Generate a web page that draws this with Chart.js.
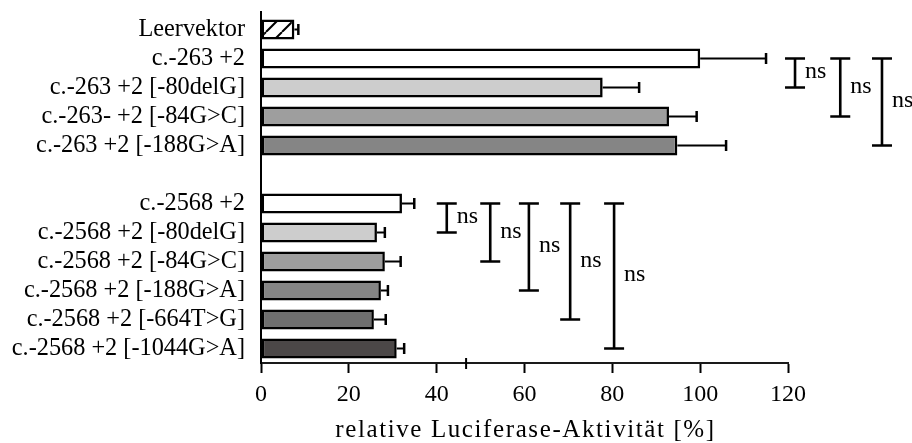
<!DOCTYPE html>
<html>
<head>
<meta charset="utf-8">
<script src="https://cdn.jsdelivr.net/npm/chart.js@4"></script>
<style>
  html, body { margin: 0; padding: 0; background: #fff; }
  #wrap { width: 912px; height: 443px; }
</style>
</head>
<body>
<div id="wrap"><canvas id="c" width="912" height="443"></canvas></div>
<script>
// Constructs (top to bottom); the empty entry separates the two promoter groups
const categories = [
  'Leervektor',
  'c.-263 +2',
  'c.-263 +2 [-80delG]',
  'c.-263- +2 [-84G>C]',
  'c.-263 +2 [-188G>A]',
  '',
  'c.-2568 +2',
  'c.-2568 +2 [-80delG]',
  'c.-2568 +2 [-84G>C]',
  'c.-2568 +2 [-188G>A]',
  'c.-2568 +2 [-664T>G]',
  'c.-2568 +2 [-1044G>A]'
];

// Mean relative luciferase activity [%]
const activity = [7.6, 100, 77.8, 92.9, 94.8, null, 32.1, 26.4, 28.2, 27.3, 25.7, 30.9];

// Standard deviation (drawn on the positive side only)
const deviation = [0.9, 15.0, 8.3, 6.3, 11.1, null, 2.8, 1.8, 3.6, 1.6, 2.7, 1.7];

// Axis tick values
const xTicks = [0, 20, 40, 60, 80, 100, 120];

// Pairwise comparisons against each group's reference construct
const comparisonRef = [1, 1, 1, 6, 6, 6, 6, 6];
const comparisonTo  = [2, 3, 4, 7, 8, 9, 10, 11];
const comparisonTxt = ['ns', 'ns', 'ns', 'ns', 'ns', 'ns', 'ns', 'ns'];

// ---- styling ----
const serif = '"Liberation Serif", "Times New Roman", serif';
const bracketAt = [121.6, 131.9, 141.4, 42.3, 52.2, 61.0, 70.4, 80.4];
const breakMark = 46.7;

function hatch() {
  const t = document.createElement('canvas');
  t.width = 16; t.height = 16;
  const g = t.getContext('2d');
  g.fillStyle = '#fff';
  g.fillRect(0, 0, 16, 16);
  g.strokeStyle = '#000';
  g.lineWidth = 2;
  g.beginPath();
  g.moveTo(10, 0); g.lineTo(-6, 16);
  g.moveTo(26, 0); g.lineTo(10, 16);
  g.stroke();
  return document.getElementById('c').getContext('2d').createPattern(t, 'repeat');
}

const fills = [hatch(), '#ffffff', '#cdcdcd', '#9e9e9e', '#858585', '#ffffff',
               '#ffffff', '#cdcdcd', '#9e9e9e', '#858585', '#6f6f6f', '#4b4747'];

const extras = {
  id: 'extras',
  afterDatasetsDraw(chart) {
    const { ctx, scales: { x, y }, chartArea } = chart;
    ctx.save();
    ctx.strokeStyle = '#000';
    ctx.fillStyle = '#000';

    // error bars
    activity.forEach((v, i) => {
      if (v == null) return;
      const py = y.getPixelForValue(i);
      const x0 = x.getPixelForValue(v);
      const x1 = x.getPixelForValue(v + deviation[i]);
      ctx.lineWidth = 2;
      ctx.beginPath();
      ctx.moveTo(x0, py); ctx.lineTo(x1, py);
      ctx.stroke();
      ctx.lineWidth = 2.5;
      ctx.beginPath();
      ctx.moveTo(x1, py - 5.5); ctx.lineTo(x1, py + 5.5);
      ctx.stroke();
    });

    // significance brackets
    ctx.font = '24px ' + serif;
    ctx.textAlign = 'left';
    ctx.textBaseline = 'middle';
    comparisonRef.forEach((a, k) => {
      const bx = x.getPixelForValue(bracketAt[k]);
      const y1 = y.getPixelForValue(a);
      const y2 = y.getPixelForValue(comparisonTo[k]);
      ctx.lineWidth = 2.6;
      ctx.beginPath();
      ctx.moveTo(bx, y1); ctx.lineTo(bx, y2);
      ctx.moveTo(bx - 10, y1); ctx.lineTo(bx + 10, y1);
      ctx.moveTo(bx - 10, y2); ctx.lineTo(bx + 10, y2);
      ctx.stroke();
      ctx.fillText(comparisonTxt[k], bx + 10, (y1 + y2) / 2 - 1);
    });

    // y axis line runs slightly above the plot area
    ctx.lineWidth = 2;
    ctx.beginPath();
    ctx.moveTo(chartArea.left, 11); ctx.lineTo(chartArea.left, chartArea.top);
    ctx.stroke();

    // small mark crossing the x axis
    const mx = x.getPixelForValue(breakMark);
    ctx.beginPath();
    ctx.moveTo(mx, chartArea.bottom - 5); ctx.lineTo(mx, chartArea.bottom + 6);
    ctx.stroke();

    // x axis title
    ctx.font = '25px ' + serif;
    ctx.textAlign = 'center';
    ctx.textBaseline = 'alphabetic';
    ctx.letterSpacing = '1.6px';
    ctx.fillText('relative Luciferase-Aktivität [%]', (chartArea.left + chartArea.right) / 2 + 1, 437);
    ctx.restore();
  }
};

new Chart(document.getElementById('c'), {
  type: 'bar',
  data: {
    labels: categories,
    datasets: [{
      data: activity,
      backgroundColor: fills,
      borderColor: '#000',
      borderWidth: 2.6,
      borderSkipped: false,
      barPercentage: 0.69,
      categoryPercentage: 1
    }]
  },
  options: {
    indexAxis: 'y',
    responsive: false,
    animation: false,
    devicePixelRatio: 1,
    layout: { padding: { top: 15, right: 124, bottom: 0, left: 0 } },
    plugins: { legend: { display: false }, tooltip: { enabled: false } },
    scales: {
      x: {
        type: 'linear',
        min: 0,
        max: 120,
        afterBuildTicks: s => { s.ticks = xTicks.map(v => ({ value: v })); },
        afterFit: s => { s.height = 80; s.paddingLeft = 0; s.paddingRight = 0; },
        ticks: { color: '#000', font: { family: serif, size: 24 }, padding: 7, maxRotation: 0, autoSkip: false },
        grid: { drawOnChartArea: false, drawTicks: true, tickLength: 10, tickWidth: 2, tickColor: '#000' },
        border: { display: true, color: '#1a1a1a', width: 2 }
      },
      y: {
        type: 'category',
        offset: true,
        afterFit: s => { s.width = 261; s.paddingTop = 0; s.paddingBottom = 0; },
        ticks: { color: '#000', font: { family: serif, size: 24.3 }, padding: 16, autoSkip: false },
        grid: { drawOnChartArea: false, drawTicks: false },
        border: { display: true, color: '#000', width: 2 }
      }
    }
  },
  plugins: [extras]
});
</script>
</body>
</html>
